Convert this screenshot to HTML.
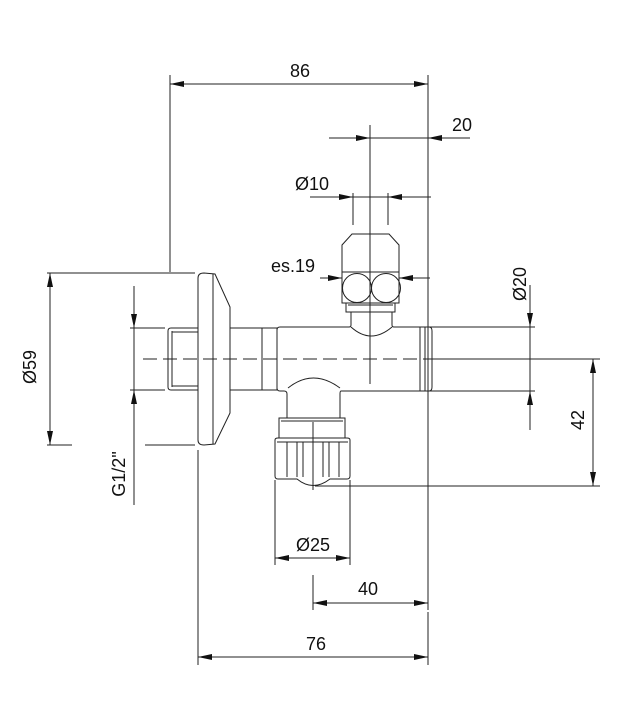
<!DOCTYPE html>
<html><head><style>
html,body{margin:0;padding:0;background:#fff;}
svg{display:block;}
text{font-family:"Liberation Sans",Arial,sans-serif;font-size:18px;fill:#111;}
</style></head><body>
<svg width="640" height="705" viewBox="0 0 640 705" xmlns="http://www.w3.org/2000/svg">
<defs>
<marker id="a" viewBox="0 0 14 6" refX="14" refY="3" markerWidth="14" markerHeight="6" orient="auto" markerUnits="userSpaceOnUse"><path d="M0,0L14,3L0,6z" fill="#111"/></marker>
</defs>
<g stroke="#222" stroke-width="1" fill="none">
<line x1="170" y1="75" x2="170" y2="272"/>
<line x1="428" y1="75" x2="428" y2="610"/>
<line x1="370" y1="125" x2="370" y2="384"/>
<line x1="198" y1="450" x2="198" y2="665"/>
<line x1="428" y1="612" x2="428" y2="665"/>
<line x1="47" y1="273" x2="195" y2="273"/>
<line x1="47" y1="445" x2="72" y2="445"/>
<line x1="145" y1="445" x2="195" y2="445"/>
<line x1="130" y1="328" x2="165" y2="328"/>
<line x1="130" y1="390" x2="165" y2="390"/>
<line x1="353" y1="193" x2="353" y2="225"/>
<line x1="388" y1="193" x2="388" y2="225"/>
<line x1="433" y1="359" x2="600" y2="359"/>
<line x1="315" y1="486" x2="600" y2="486"/>
<line x1="275" y1="480" x2="275" y2="565"/>
<line x1="350" y1="480" x2="350" y2="565"/>
<line x1="313" y1="575" x2="313" y2="610"/>
<line x1="313" y1="422" x2="313" y2="490"/>
<line x1="428" y1="327" x2="535" y2="327"/>
<line x1="428" y1="391" x2="535" y2="391"/>
<line x1="300" y1="84" x2="170" y2="84" marker-end="url(#a)"/>
<line x1="300" y1="84" x2="428" y2="84" marker-end="url(#a)"/>
<line x1="329" y1="138" x2="370" y2="138" marker-end="url(#a)"/>
<line x1="370" y1="138" x2="428" y2="138"/>
<line x1="470" y1="138" x2="428" y2="138" marker-end="url(#a)"/>
<line x1="310" y1="197" x2="353" y2="197" marker-end="url(#a)"/>
<line x1="353" y1="197" x2="388" y2="197"/>
<line x1="431" y1="197" x2="388" y2="197" marker-end="url(#a)"/>
<line x1="320" y1="278" x2="342" y2="278" marker-end="url(#a)"/>
<line x1="430" y1="278" x2="399" y2="278" marker-end="url(#a)"/>
<line x1="50" y1="359" x2="50" y2="273" marker-end="url(#a)"/>
<line x1="50" y1="359" x2="50" y2="445" marker-end="url(#a)"/>
<line x1="134" y1="286" x2="134" y2="328" marker-end="url(#a)"/>
<line x1="134" y1="328" x2="134" y2="390"/>
<line x1="134" y1="505" x2="134" y2="390" marker-end="url(#a)"/>
<line x1="530" y1="285" x2="530" y2="327" marker-end="url(#a)"/>
<line x1="530" y1="327" x2="530" y2="391"/>
<line x1="530" y1="430" x2="530" y2="391" marker-end="url(#a)"/>
<line x1="593" y1="420" x2="593" y2="359" marker-end="url(#a)"/>
<line x1="593" y1="420" x2="593" y2="486" marker-end="url(#a)"/>
<line x1="312" y1="558" x2="275" y2="558" marker-end="url(#a)"/>
<line x1="312" y1="558" x2="350" y2="558" marker-end="url(#a)"/>
<line x1="370" y1="603" x2="313" y2="603" marker-end="url(#a)"/>
<line x1="370" y1="603" x2="428" y2="603" marker-end="url(#a)"/>
<line x1="313" y1="657" x2="198" y2="657" marker-end="url(#a)"/>
<line x1="313" y1="657" x2="428" y2="657" marker-end="url(#a)"/>
<line x1="143" y1="359" x2="465" y2="359" stroke-dasharray="14,6"/>
<path d="M198,328 H171 Q168,328 168,331 V387 Q168,390 171,390 H198"/>
<line x1="172" y1="331" x2="172" y2="387"/>
<line x1="172" y1="332" x2="198" y2="332"/>
<line x1="172" y1="386" x2="198" y2="386"/>
<path d="M198,278 Q198,273 204,273 L215,274 L230,307 V413 L215,444 L204,445 Q198,445 198,440 Z"/>
<line x1="213" y1="274" x2="213" y2="444"/>
<path d="M230,328 H262 V390 H230"/>
<path d="M262,328 H277 V390 H262"/>
<path d="M277,330 Q277,327 280,327 H349 Q351,327 351,325 V312 M392,312 V325 Q392,327 394,327 H420 V391 H341 Q340,391 340,394 M287,394 Q287,391 284,391 H280 Q277,391 277,388"/>
<path d="M351,327 Q371,345 392,327"/>
<path d="M420,327 H429 Q432,327 432,331 V387 Q432,391 429,391 H420"/>
<line x1="425" y1="327" x2="425" y2="391"/>
<path d="M342,245 L352,234 H389 L399,245 V303 H342 Z"/>
<line x1="342" y1="272" x2="399" y2="272"/>
<circle cx="357" cy="288" r="14.5"/>
<circle cx="386" cy="288" r="14.5"/>
<path d="M346,303 V312 H395 V303"/>
<line x1="348" y1="305" x2="393" y2="305"/>
<path d="M287,394 V418 M340,394 V418"/>
<path d="M288,388 Q313,368 340,388"/>
<path d="M279,418 H345 V438 H279 Z"/>
<line x1="281" y1="421" x2="343" y2="421"/>
<path d="M275,440 Q275,438 278,438 H347 Q350,438 350,440 V476 Q350,479 347,479 H330 Q313,492 297,479 H278 Q275,479 275,476 Z"/>
<line x1="277" y1="442" x2="348" y2="442"/>
<line x1="287" y1="442" x2="287" y2="477"/>
<line x1="297" y1="442" x2="297" y2="477"/>
<line x1="303" y1="442" x2="303" y2="477"/>
<line x1="313" y1="442" x2="313" y2="477"/>
<line x1="323" y1="442" x2="323" y2="477"/>
<line x1="329" y1="442" x2="329" y2="477"/>
<line x1="339" y1="442" x2="339" y2="477"/>
</g>
<text x="300" y="77" text-anchor="middle">86</text>
<text x="462" y="131" text-anchor="middle">20</text>
<text x="312" y="190" text-anchor="middle">Ø10</text>
<text x="293" y="272" text-anchor="middle">es.19</text>
<text transform="translate(36,367) rotate(-90)" text-anchor="middle">Ø59</text>
<text transform="translate(125,474) rotate(-90)" text-anchor="middle">G1/2"</text>
<text transform="translate(526,284) rotate(-90)" text-anchor="middle">Ø20</text>
<text transform="translate(584,420) rotate(-90)" text-anchor="middle">42</text>
<text x="313" y="551" text-anchor="middle">Ø25</text>
<text x="368" y="595" text-anchor="middle">40</text>
<text x="316" y="650" text-anchor="middle">76</text>
</svg>
</body></html>
